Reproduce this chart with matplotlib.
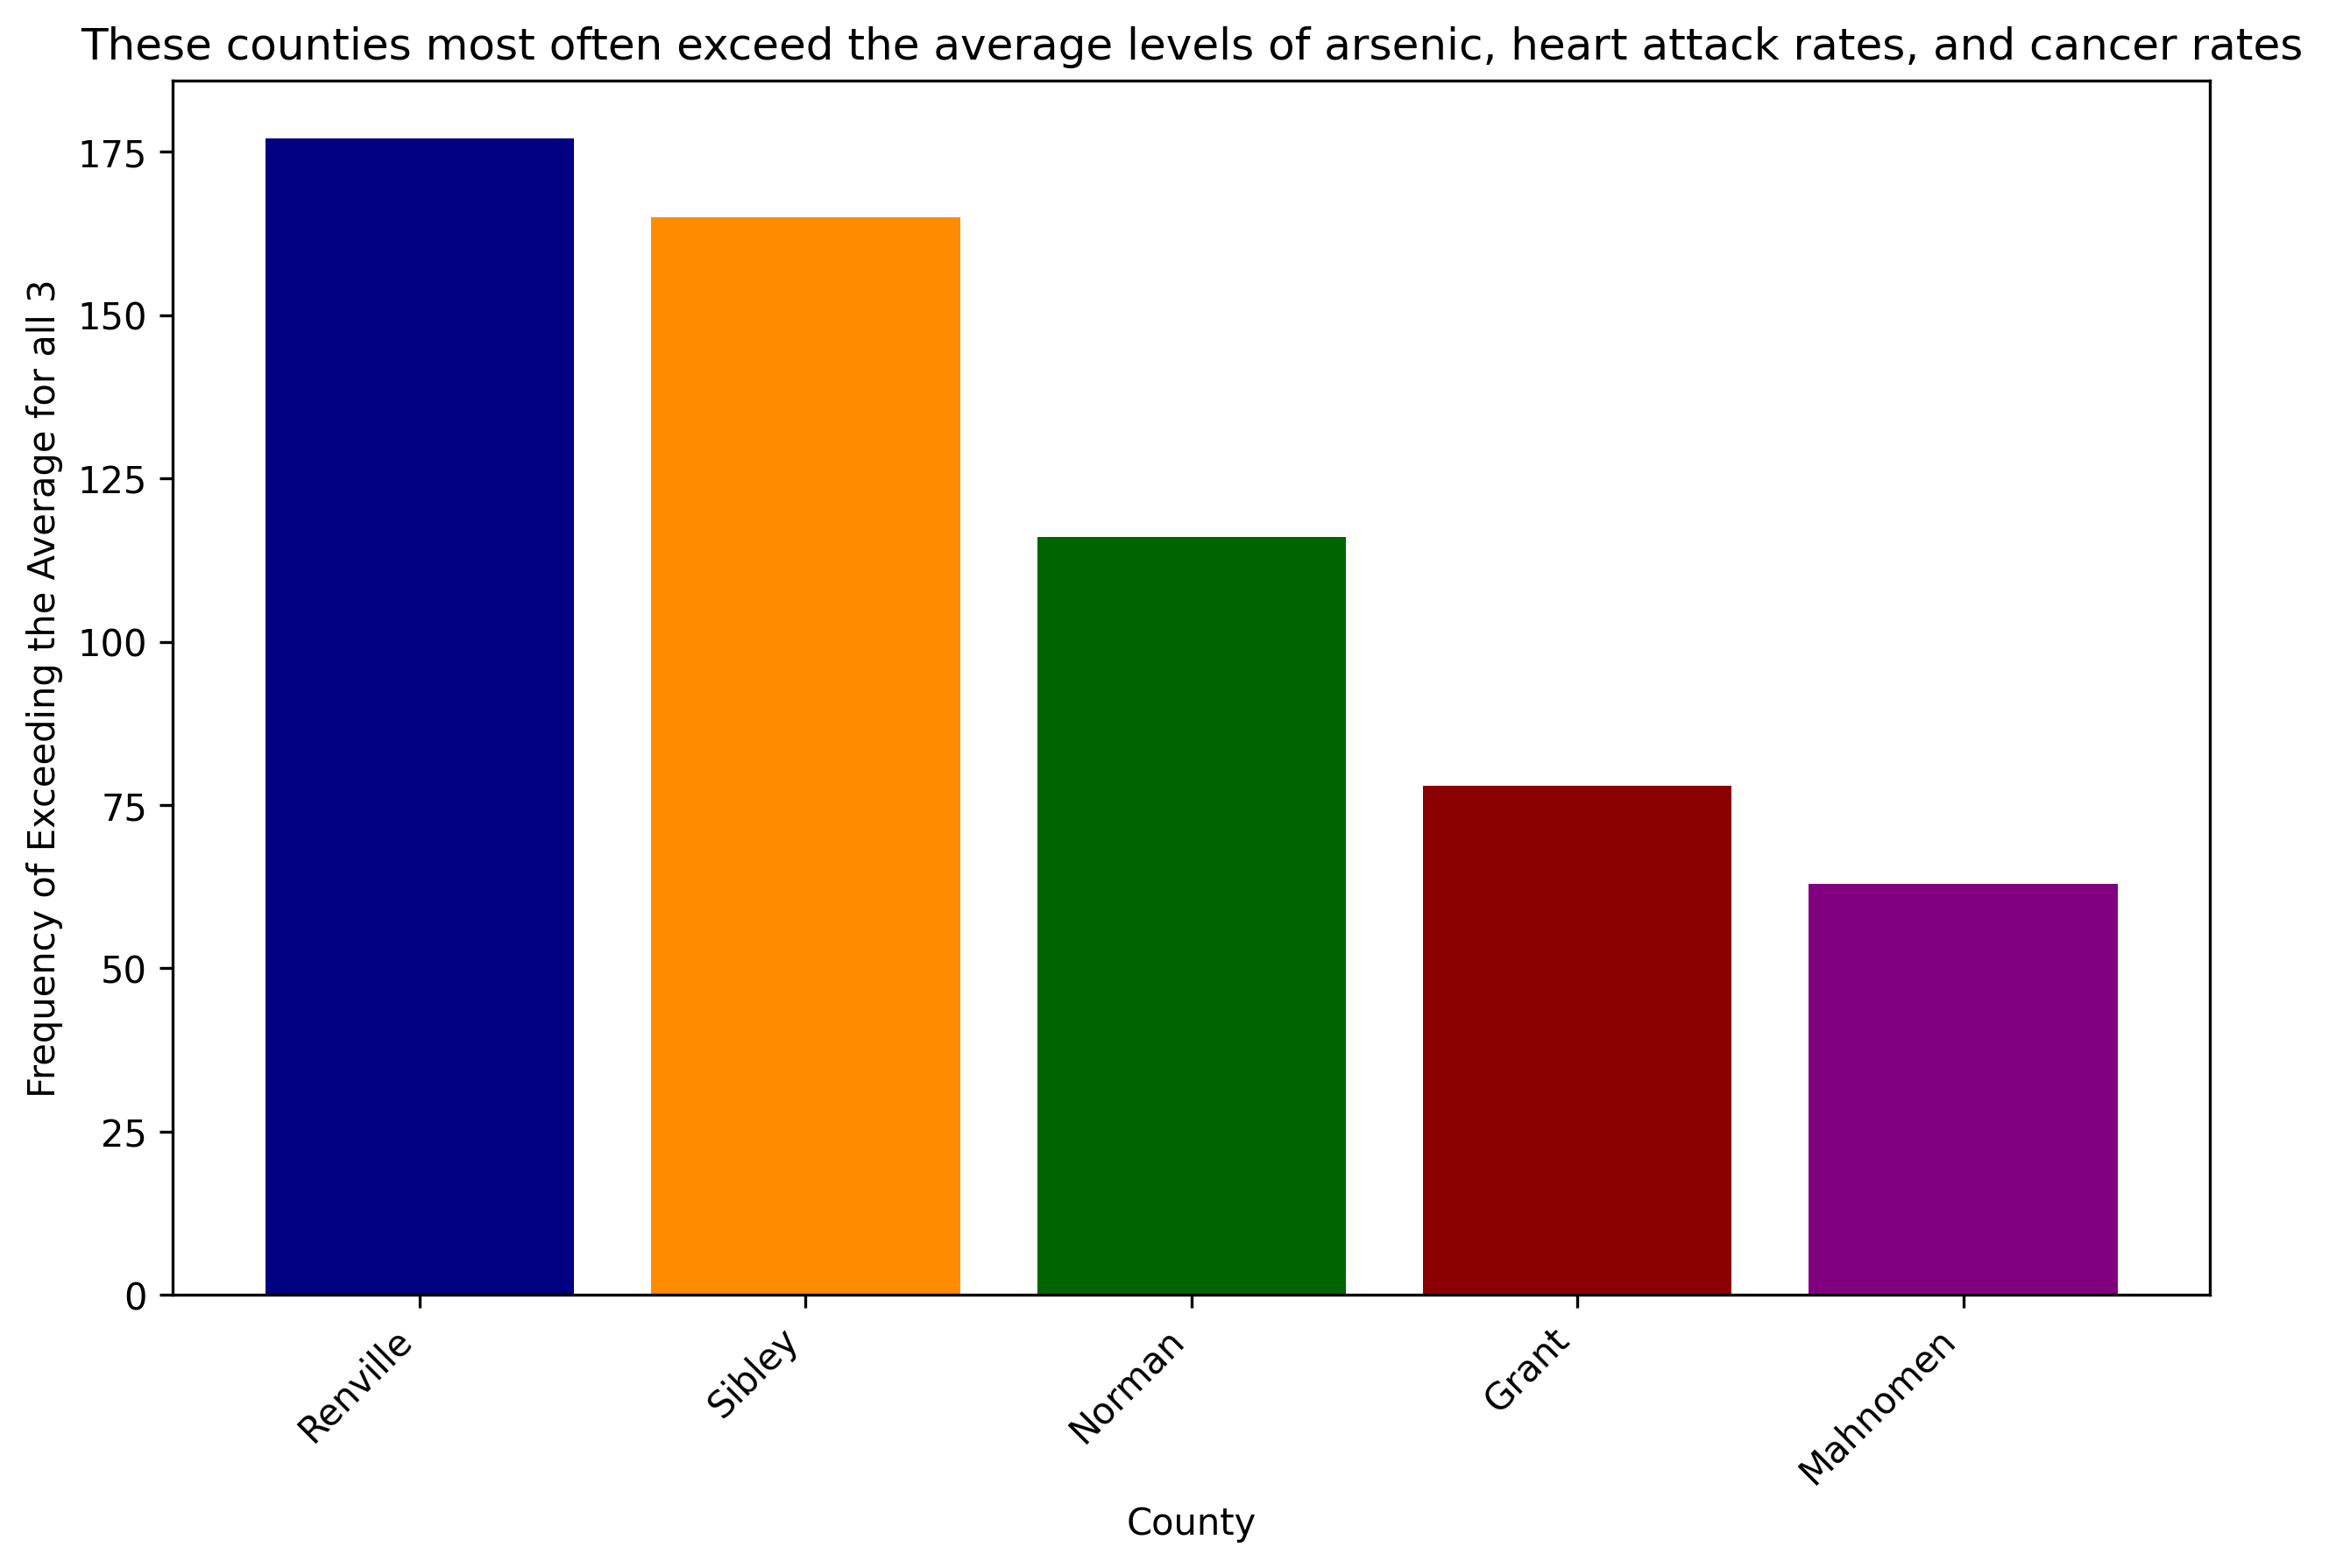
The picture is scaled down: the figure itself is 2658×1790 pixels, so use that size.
import matplotlib
matplotlib.use("Agg")
import matplotlib.pyplot as plt

counties = ["Renville", "Sibley", "Norman", "Grant", "Mahnomen"]
counts = [177, 165, 116, 78, 63]
colors = ["navy", "darkorange", "darkgreen", "darkred", "purple"]

fig, ax = plt.subplots(figsize=(10, 6))
ax.bar(counties, counts, color=colors)
ax.set_title("These counties most often exceed the average levels of arsenic, heart attack rates, and cancer rates",
             fontsize=12)
ax.set_xlabel("County")
ax.set_ylabel("Frequency of Exceeding the Average for all 3")
plt.xticks(rotation=45, ha="right")
fig.savefig("out.png", dpi=300, bbox_inches="tight")
